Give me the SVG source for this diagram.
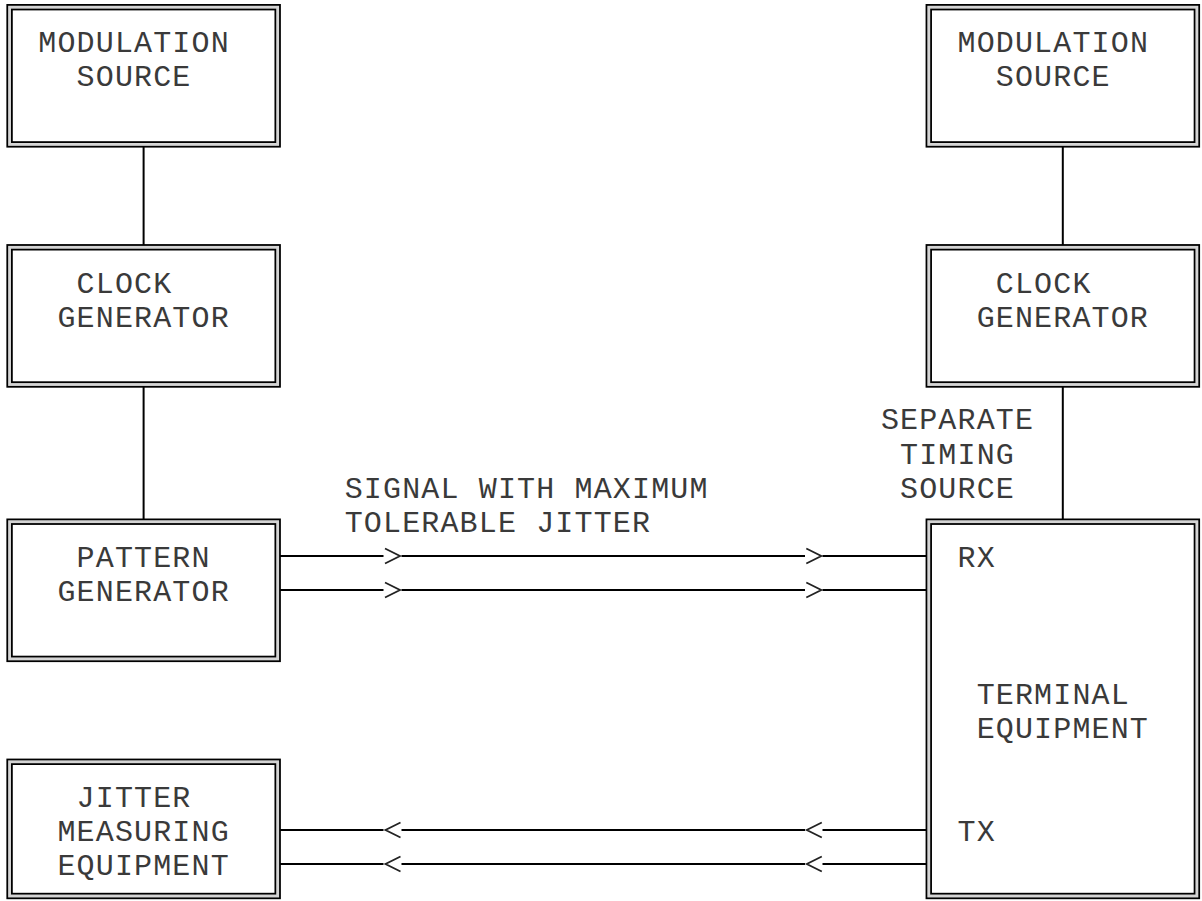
<svg xmlns="http://www.w3.org/2000/svg" width="1202" height="901" viewBox="0 0 1202 901">
<style>
.bo{fill:none;stroke:#000;stroke-width:1.8}
.bm{fill:none;stroke:#d4d4d4;stroke-width:2.6}
.t{font-family:"Liberation Mono","DejaVu Sans Mono",monospace;font-size:30px;letter-spacing:1.15px;fill:#3a3a3a}
.ln{fill:none;stroke:#000;stroke-width:2}
.ar{fill:none;stroke:#222;stroke-width:1.8}
</style>
<rect width="1202" height="901" fill="#fff"/>
<g id="connectors">
<line class="ln" x1="143.6" y1="146.7" x2="143.6" y2="245"/>
<line class="ln" x1="143.6" y1="386.8" x2="143.6" y2="519.4"/>
<line class="ln" x1="1062.8" y1="146.7" x2="1062.8" y2="245"/>
<line class="ln" x1="1062.8" y1="386.8" x2="1062.8" y2="519.4"/>
<path class="ln" d="M280 556H383.5M401.5 556H805M822.5 556H926.5M280 590H383.5M401.5 590H805M822.5 590H926.5M280 830H383.5M401.5 830H805M822.5 830H926.5M280 864H383.5M401.5 864H805M822.5 864H926.5"/>
<path class="ar" d="M385 548.5L400 556L385 563.5M806.3 548.5L821.3 556L806.3 563.5M385 582.5L400 590L385 597.5M806.3 582.5L821.3 590L806.3 597.5"/>
<path class="ar" d="M400.5 822.5L385.5 830L400.5 837.5M821.8 822.5L806.8 830L821.8 837.5M400.5 856.5L385.5 864L400.5 871.5M821.8 856.5L806.8 864L821.8 871.5"/>
</g>
<g id="mod-source-left">
<rect class="bm" x="9.575" y="7.2" width="268.1" height="137.2"/>
<rect class="bo" x="7.275" y="4.9" width="272.7" height="141.8"/>
<rect class="bo" x="11.875" y="9.5" width="263.5" height="132.6"/>
<text class="t" x="38.3" y="52">MODULATION</text>
<text class="t" x="76.6" y="86.3">SOURCE</text>
</g>
<g id="clock-gen-left">
<rect class="bm" x="9.575" y="247.3" width="268.1" height="137.2"/>
<rect class="bo" x="7.275" y="245" width="272.7" height="141.8"/>
<rect class="bo" x="11.875" y="249.6" width="263.5" height="132.6"/>
<text class="t" x="76.6" y="292.8">CLOCK</text>
<text class="t" x="57.45" y="327.1">GENERATOR</text>
</g>
<g id="pattern-gen">
<rect class="bm" x="9.575" y="521.7" width="268.1" height="137.2"/>
<rect class="bo" x="7.275" y="519.4" width="272.7" height="141.8"/>
<rect class="bo" x="11.875" y="524" width="263.5" height="132.6"/>
<text class="t" x="76.6" y="566.5">PATTERN</text>
<text class="t" x="57.45" y="600.8">GENERATOR</text>
</g>
<g id="jitter-meas">
<rect class="bm" x="9.575" y="761.8" width="268.1" height="134.2"/>
<rect class="bo" x="7.275" y="759.5" width="272.7" height="138.8"/>
<rect class="bo" x="11.875" y="764.1" width="263.5" height="129.6"/>
<text class="t" x="76.6" y="806.6">JITTER</text>
<text class="t" x="57.45" y="840.9">MEASURING</text>
<text class="t" x="57.45" y="875.2">EQUIPMENT</text>
</g>
<g id="mod-source-right">
<rect class="bm" x="928.775" y="7.2" width="268.1" height="137.2"/>
<rect class="bo" x="926.475" y="4.9" width="272.7" height="141.8"/>
<rect class="bo" x="931.075" y="9.5" width="263.5" height="132.6"/>
<text class="t" x="957.5" y="52">MODULATION</text>
<text class="t" x="995.8" y="86.3">SOURCE</text>
</g>
<g id="clock-gen-right">
<rect class="bm" x="928.775" y="247.3" width="268.1" height="137.2"/>
<rect class="bo" x="926.475" y="245" width="272.7" height="141.8"/>
<rect class="bo" x="931.075" y="249.6" width="263.5" height="132.6"/>
<text class="t" x="995.8" y="292.8">CLOCK</text>
<text class="t" x="976.65" y="327.1">GENERATOR</text>
</g>
<g id="terminal">
<rect class="bm" x="928.775" y="521.7" width="268.1" height="374.3"/>
<rect class="bo" x="926.475" y="519.4" width="272.7" height="378.9"/>
<rect class="bo" x="931.075" y="524" width="263.5" height="369.7"/>
<text class="t" x="957.5" y="566.5">RX</text>
<text class="t" x="976.65" y="703.5">TERMINAL</text>
<text class="t" x="976.65" y="737.8">EQUIPMENT</text>
<text class="t" x="957.5" y="840.9">TX</text>
</g>
<g id="labels">
<text class="t" x="880.9" y="429.3">SEPARATE</text>
<text class="t" x="900.05" y="463.6">TIMING</text>
<text class="t" x="900.05" y="497.9">SOURCE</text>
<text class="t" x="344.7" y="497.9">SIGNAL WITH MAXIMUM</text>
<text class="t" x="344.7" y="532.2">TOLERABLE JITTER</text>
</g>
</svg>
